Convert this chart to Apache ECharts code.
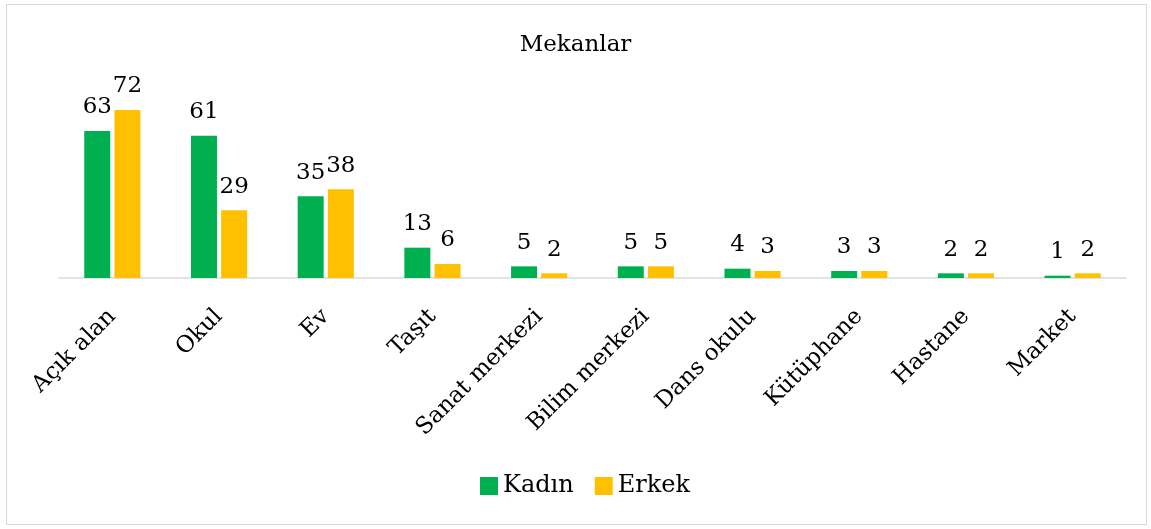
<!DOCTYPE html>
<html>
<head>
<meta charset="utf-8">
<script src="https://cdn.jsdelivr.net/npm/echarts@6/dist/echarts.min.js"></script>
<style>
  html, body { margin: 0; padding: 0; background: #fff; }
  #frame {
    position: absolute; left: 6px; top: 4px; width: 1139px; height: 519px;
    border: 1px solid #d9d9d9;
  }
  #chart { position: absolute; left: 0; top: 0; width: 1151px; height: 529px; }
</style>
</head>
<body>
<div id="frame"></div>
<div id="chart"></div>
<script>
// chart data
const categories = ['Açık alan', 'Okul', 'Ev', 'Taşıt', 'Sanat merkezi', 'Bilim merkezi', 'Dans okulu', 'Kütüphane', 'Hastane', 'Market'];
const kadin = [63, 61, 35, 13, 5, 5, 4, 3, 2, 1];
const erkek = [72, 29, 38, 6, 2, 5, 3, 3, 2, 2];

const font = 'Palatino Linotype, Book Antiqua, Palatino, DejaVu Serif, serif';

const chart = echarts.init(document.getElementById('chart'));

/**
 * one bar series with its value label on top
 */
function barSeries(name, data, color) {
    return {
        name: name,
        type: 'bar',
        data: data,
        barWidth: 26,
        barGap: '16%',
        itemStyle: { color: color },
        label: {
            show: true,
            position: 'top',
            distance: 12,
            color: '#000',
            fontFamily: font,
            fontSize: 23
        }
    };
}

chart.setOption({
    animation: false,
    title: {
        text: 'Mekanlar',
        left: 'center',
        top: 29,
        textStyle: { fontFamily: font, fontSize: 23, fontWeight: 'normal', color: '#000' }
    },
    legend: {
        top: 469,
        left: 475,
        itemWidth: 18,
        itemHeight: 18,
        itemGap: 21,
        icon: 'rect',
        textStyle: { fontFamily: font, fontSize: 24, color: '#000' },
        data: ['Kadın', 'Erkek']
    },
    grid: { left: 59, right: 25, top: 110, bottom: 251 },
    xAxis: {
        type: 'category',
        data: categories,
        axisLine: { lineStyle: { color: '#d9d9d9', width: 1.5 } },
        axisTick: { show: false },
        axisLabel: {
            rotate: 45,
            margin: 35,
            interval: 0,
            color: '#000',
            fontFamily: font,
            fontSize: 23
        }
    },
    yAxis: {
        type: 'value',
        min: 0,
        max: 72,
        show: false,
        splitLine: { show: false }
    },
    series: [
        barSeries('Kadın', kadin, '#00b050'),
        barSeries('Erkek', erkek, '#ffc000')
    ]
});
</script>
</body>
</html>
